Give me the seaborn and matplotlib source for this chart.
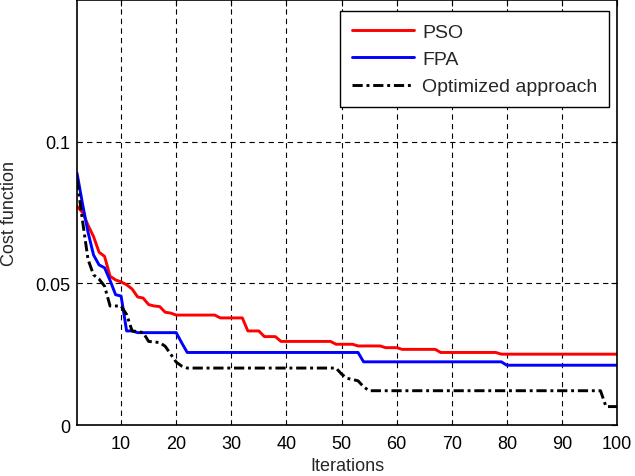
import numpy as np
import pandas as pd
import seaborn as sns
from matplotlib import pyplot as plt

# values (iteration -> cost)
pso_iter = [2, 3, 4, 5, 6, 7, 8, 9, 10, 11, 12, 13, 14, 15, 16, 17, 18, 19, 20,
            27, 28, 32, 33, 35, 36, 38, 39, 48, 49, 52, 53, 57, 58, 60, 61, 67,
            68, 78, 79, 100]
pso_cost = [0.0772, 0.0750, 0.0705, 0.0665, 0.0610, 0.0595, 0.0525, 0.0512,
            0.0505, 0.0495, 0.0480, 0.0452, 0.0448, 0.0425, 0.0420, 0.0418,
            0.0398, 0.0395, 0.0388, 0.0388, 0.0378, 0.0378, 0.0332, 0.0332,
            0.0312, 0.0312, 0.0295, 0.0295, 0.0285, 0.0285, 0.0279, 0.0279,
            0.0273, 0.0273, 0.0267, 0.0267, 0.0256, 0.0256, 0.0250, 0.0250]

fpa_iter = [2, 3, 4, 5, 6, 7, 8, 9, 10, 11, 12, 13, 20, 21, 22, 53, 54, 79, 80, 100]
fpa_cost = [0.0889, 0.0780, 0.0680, 0.0600, 0.0565, 0.0555, 0.0510, 0.0460,
            0.0455, 0.0332, 0.0332, 0.0326, 0.0326, 0.0290, 0.0256, 0.0256,
            0.0223, 0.0223, 0.0211, 0.0211]

opt_iter = [2, 3, 4, 5, 6, 7, 8, 10, 11, 12, 13, 14, 15, 17, 18, 19, 20, 21, 22,
            49, 50, 51, 53, 54, 55, 97, 98, 100]
opt_cost = [0.0866, 0.0720, 0.0584, 0.0530, 0.0515, 0.0490, 0.0420, 0.0420,
            0.0390, 0.0332, 0.0330, 0.0326, 0.0295, 0.0291, 0.0278, 0.0250,
            0.0222, 0.0208, 0.0201, 0.0201, 0.0180, 0.0165, 0.0156, 0.0135,
            0.0121, 0.0121, 0.0065, 0.0065]

names = ["PSO", "FPA", "Optimized approach"]

data = pd.concat(
    [
        pd.DataFrame({"Iterations": pso_iter, "Cost function": pso_cost, "method": names[0]}),
        pd.DataFrame({"Iterations": fpa_iter, "Cost function": fpa_cost, "method": names[1]}),
        pd.DataFrame({"Iterations": opt_iter, "Cost function": opt_cost, "method": names[2]}),
    ],
    ignore_index=True,
)

sns.set_theme(style="white")
plt.rcParams["font.family"] = ["Liberation Sans", "DejaVu Sans"]

fig = plt.figure(figsize=(6.35, 4.77), dpi=100)
ax = fig.add_axes([0.1213, 0.1069, 0.8504, 0.891])

sns.lineplot(
    data=data,
    x="Iterations",
    y="Cost function",
    hue="method",
    hue_order=names,
    palette={"PSO": "#ff0000", "FPA": "#0000ff", "Optimized approach": "#000000"},
    style="method",
    style_order=names,
    dashes={"PSO": "", "FPA": "", "Optimized approach": (3.5, 1.3, 1.0, 1.3)},
    linewidth=2.1,
    ax=ax,
)

ax.set_xlim(2, 100)
ax.set_ylim(0, 0.15)
ax.set_xticks(np.arange(10, 101, 10))
ax.set_yticks([0, 0.05, 0.1])
ax.set_yticklabels(["0", "0.05", "0.1"])
ax.set_axisbelow(True)
ax.grid(True, color="black", linestyle=(0, (4.8, 3.8)), linewidth=0.8)
ax.tick_params(direction="in", top=True, right=True, length=4, width=0.8,
               labelsize=13, colors="black")
ax.tick_params(axis="x", pad=7)
ax.tick_params(axis="y", pad=5)
for sp in ax.spines.values():
    sp.set_color("black")
    sp.set_linewidth(1.2)
ax.set_xlabel("Iterations", fontsize=13, labelpad=4)
ax.set_ylabel("Cost function", fontsize=13, labelpad=12)

handles, labels = ax.get_legend_handles_labels()
leg = ax.legend(
    handles, labels,
    loc="upper right",
    bbox_to_anchor=(0.985, 0.973),
    fontsize=14,
    frameon=True,
    fancybox=False,
    framealpha=1,
    edgecolor="black",
    handlelength=3.2,
    handletextpad=0.4,
    labelspacing=0.5,
    borderpad=0.6,
    borderaxespad=0,
)
leg.get_frame().set_linewidth(1.0)

fig.savefig("out.png", dpi=100)
